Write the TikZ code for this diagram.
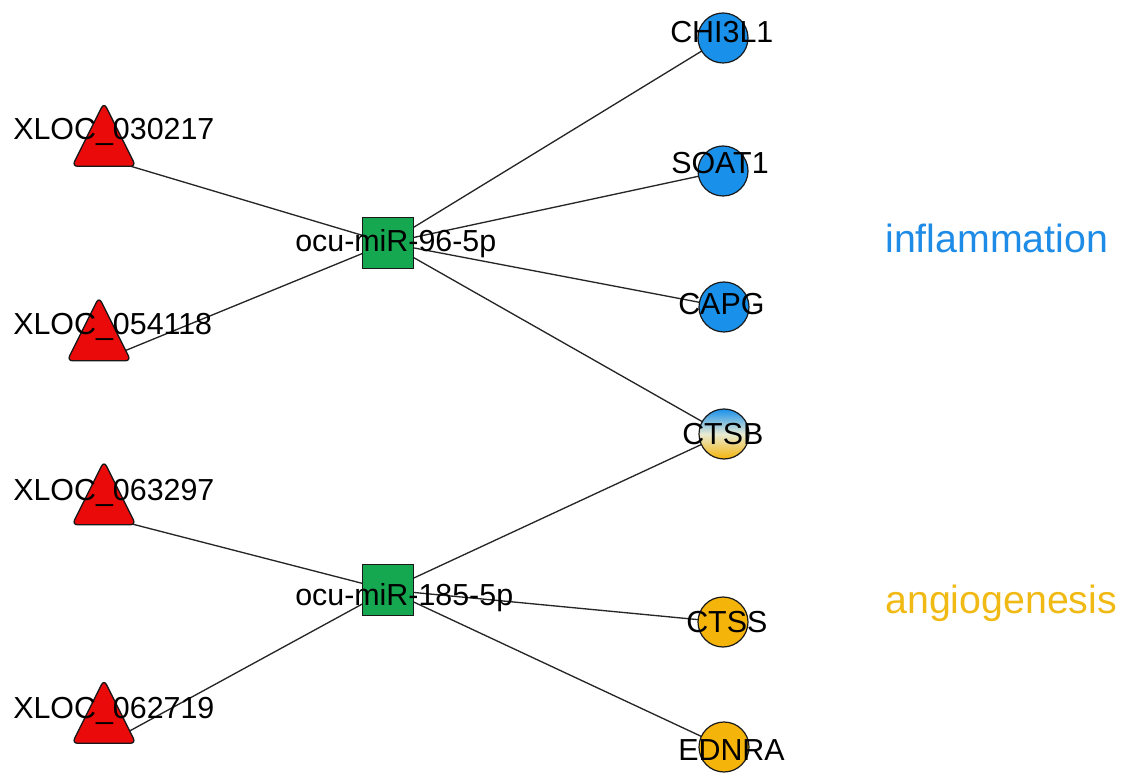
\documentclass[tikz,border=0pt]{standalone}
\usepackage{fontspec}
\setmainfont{Liberation Sans}
\pgfdeclarelayer{bg}
\pgfsetlayers{bg,main}
\definecolor{tred}{RGB}{235,10,10}
\definecolor{sgreen}{RGB}{22,168,80}
\definecolor{cblue}{RGB}{25,145,235}
\definecolor{cyell}{RGB}{245,180,10}
\definecolor{tblue}{RGB}{30,140,230}
\definecolor{tyell}{RGB}{240,185,20}
\begin{document}
\begin{tikzpicture}[x=0.75pt,y=-0.75pt,
  trispot/.style={rectangle,inner sep=0pt,minimum width=47.25pt,minimum height=47.25pt},
  tri/.style={draw=black!90,line width=1pt,fill=tred,rounded corners=4pt},
  sq/.style={rectangle,draw=black!90,line width=0.9pt,fill=sgreen,minimum width=38pt,minimum height=38pt,inner sep=0pt},
  circ/.style={circle,draw=black!90,line width=0.9pt,minimum size=37.5pt,inner sep=0pt},
  lbl/.style={anchor=base west,inner sep=0pt,text=black,font=\fontsize{22.8}{26}\selectfont},
  cat/.style={anchor=base west,inner sep=0pt,font=\fontsize{29.5}{34}\selectfont},
  edge/.style={draw=black!85,line width=1pt}]
\useasboundingbox (0,0) rectangle (1121,773);
% triangles (lncRNAs)
\node[trispot] (t1) at (104,134.5) {};
\node[trispot] (t2) at (99,329) {};
\node[trispot] (t3) at (104,493) {};
\node[trispot] (t4) at (104,711.5) {};
\foreach \t in {t1,t2,t3,t4}{
  \draw[tri] (\t.north) -- (\t.south east) -- (\t.south west) -- cycle;
}
% squares (miRNAs)
\node[sq] (s1) at (388,243) {};
\node[sq] (s2) at (388,590) {};
% circles (mRNAs)
\node[circ,fill=cblue] (c1) at (723,38) {};
\node[circ,fill=cblue] (c2) at (723,171) {};
\node[circ,fill=cblue] (c3) at (724,307) {};
\node[circ,top color=cblue,bottom color=cyell,middle color={rgb,255:red,232;green,234;blue,210}] (c4) at (724,434) {};
\node[circ,fill=cyell] (c5) at (723,622) {};
\node[circ,fill=cyell] (c6) at (724,747) {};
% edges
\begin{pgfonlayer}{bg}
\draw[edge] ([yshift=6pt]t1.south) -- (s1.center);
\draw[edge] ([xshift=6pt,yshift=2pt]t2.south) -- (s1.center);
\draw[edge] ([yshift=6pt]t3.south) -- (s2.center);
\draw[edge] ([xshift=6pt,yshift=2pt]t4.south) -- (s2.center);
\draw[edge] (s1.center) -- (c1.center);
\draw[edge] (s1.center) -- (c2.center);
\draw[edge] (s1.center) -- (c3.center);
\draw[edge] (s1.center) -- (c4.center);
\draw[edge] (s2.center) -- (c4.center);
\draw[edge] (s2.center) -- (c5.center);
\draw[edge] (s2.center) -- (c6.center);
\end{pgfonlayer}
% labels
\node[lbl] (lt1) at (13,140) {XLOC\_030217};
\node[lbl] (lt2) at (13,335) {XLOC\_054118};
\node[lbl] (lt3) at (13,500) {XLOC\_063297};
\node[lbl] (lt4) at (13,718) {XLOC\_062719};
\node[lbl] (ls1) at (295,252) {ocu-miR-96-5p};
\node[lbl] (ls2) at (295,605) {ocu-miR-185-5p};
\node[lbl] (lc1) at (670,43) {CHI3L1};
\node[lbl] (lc2) at (671,174) {SOAT1};
\node[lbl] (lc3) at (678,315) {CAPG};
\node[lbl] (lc4) at (682,445) {CTSB};
\node[lbl] (lc5) at (686,632) {CTSS};
\node[lbl] (lc6) at (678,760) {EDNRA};
% categories
\node[cat,text=tblue] (inf) at (885,253) {inflammation};
\node[cat,text=tyell] (ang) at (885,613) {angiogenesis};
\end{tikzpicture}
\end{document}
